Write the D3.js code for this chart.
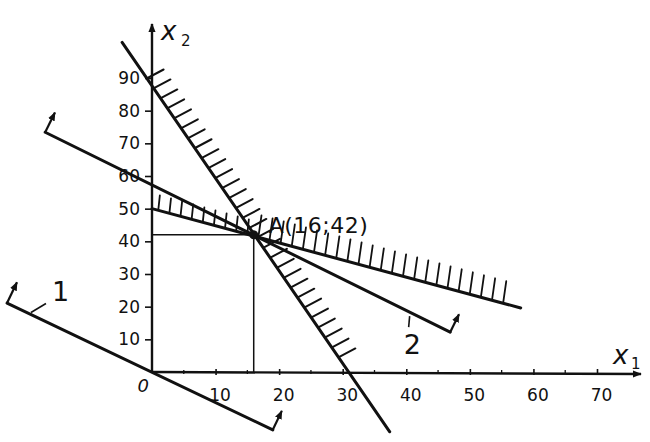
<!DOCTYPE html>
<html><head><meta charset="utf-8">
<script src="https://cdn.jsdelivr.net/npm/d3@7/dist/d3.min.js"></script>
<style>
body{margin:0;background:#fff;}
svg{display:block;}
text{font-family:"DejaVu Sans",sans-serif;fill:#111;}
</style></head>
<body>
<svg id="c" width="650" height="442"></svg>
<script>
// ---- data (in x1 / x2 units) ----
const xTicks = [10, 20, 30, 40, 50, 60, 70];
const xMinorTicks = [5, 15, 25, 35, 45, 55, 65];
const yTicks = [10, 20, 30, 40, 50, 60, 70, 80, 90];
const constraint1 = [[-4.7, 100.9], [37.4, -18.3]];   // steep boundary
const constraint1Hatch = [90, 2];                       // x2 range hatched
const constraint2 = [[0, 50], [58, 19.6]];             // shallow boundary
const constraint2Hatch = [1, 57];                       // x1 range hatched
const level1 = [[-22.8, 21.1], [19.0, -17.7]];          // objective line through origin
const level2 = [[-16.8, 73.4], [46.9, 12.2]];           // objective line through A
const pointA = [16, 42];
const pointALabel = "A(16;42)";
const axisLabels = ["x", "2", "x", "1"];

const svg = d3.select("#c");
const x = d3.scaleLinear().domain([0, 70]).range([152, 597]);
const y = d3.scaleLinear().domain([0, 90]).range([372, 78]);
const ink = "#111";

// arrow marker
const defs = svg.append("defs");
defs.append("marker").attr("id", "ah").attr("viewBox", "0 0 10 10")
  .attr("refX", 9).attr("refY", 5).attr("markerWidth", 9).attr("markerHeight", 9)
  .attr("markerUnits", "userSpaceOnUse").attr("orient", "auto")
  .append("path").attr("d", "M0,1 L10,5 L0,9 Z").attr("fill", ink);

// axes
const gx = svg.append("g").attr("transform", `translate(0,${y(0)})`)
  .call(d3.axisBottom(x).tickValues(xTicks).tickSize(4).tickPadding(13).tickFormat(d3.format("d")));
gx.select(".domain").remove();
gx.selectAll(".tick line").attr("y1", -3).attr("y2", 3).attr("stroke", ink).attr("stroke-width", 1.6);
gx.selectAll(".tick text").attr("font-size", 17).attr("dx", 4).attr("fill", ink)
  .attr("font-family", "DejaVu Sans, sans-serif");
svg.append("g").selectAll("line").data(xMinorTicks).join("line")
  .attr("x1", d => x(d)).attr("x2", d => x(d)).attr("y1", y(0) - 2).attr("y2", y(0) + 2)
  .attr("stroke", ink).attr("stroke-width", 1.3);

const gy = svg.append("g").attr("transform", `translate(${x(0)},0)`)
  .call(d3.axisLeft(y).tickValues(yTicks).tickSize(7).tickPadding(5).tickFormat(d3.format("d")));
gy.select(".domain").remove();
gy.selectAll(".tick line").attr("stroke", ink).attr("stroke-width", 1.6);
gy.selectAll(".tick text").attr("font-size", 17).attr("fill", ink)
  .attr("font-family", "DejaVu Sans, sans-serif");

svg.append("line").attr("x1", x(0)).attr("y1", y(0)).attr("x2", 641).attr("y2", y(0) + 2)
  .attr("stroke", ink).attr("stroke-width", 2.4).attr("marker-end", "url(#ah)");
svg.append("line").attr("x1", x(0)).attr("y1", y(0)).attr("x2", x(0)).attr("y2", 24)
  .attr("stroke", ink).attr("stroke-width", 2.4).attr("marker-end", "url(#ah)");

svg.append("text").attr("x", x(0) - 3).attr("y", y(0) + 20).attr("text-anchor", "end")
  .attr("font-size", 18).attr("font-style", "italic").text("0");

// axis names
const nm = svg.append("g");
nm.append("text").attr("x", 161).attr("y", 40).attr("font-size", 26).attr("font-style", "italic")
  .attr("font-family", "DejaVu Serif, serif").text(axisLabels[0]);
nm.append("text").attr("x", 181).attr("y", 46).attr("font-size", 15)
  .attr("font-family", "DejaVu Sans, sans-serif").text(axisLabels[1]);
nm.append("text").attr("x", 613).attr("y", 364).attr("font-size", 26).attr("font-style", "italic")
  .attr("font-family", "DejaVu Serif, serif").text(axisLabels[2]);
nm.append("text").attr("x", 631).attr("y", 369).attr("font-size", 15)
  .attr("font-family", "DejaVu Sans, sans-serif").text(axisLabels[3]);

// helper projections of A
svg.append("path")
  .attr("d", `M${x(0)},${y(pointA[1])} H${x(pointA[0])} V${y(0)}`)
  .attr("fill", "none").attr("stroke", ink).attr("stroke-width", 1.5);

// helpers
function lineAt(seg, t) { // t in [0,1]
  return [seg[0][0] + (seg[1][0] - seg[0][0]) * t, seg[0][1] + (seg[1][1] - seg[0][1]) * t];
}
function drawLine(seg, w) {
  svg.append("line")
    .attr("x1", x(seg[0][0])).attr("y1", y(seg[0][1]))
    .attr("x2", x(seg[1][0])).attr("y2", y(seg[1][1]))
    .attr("stroke", ink).attr("stroke-width", w).attr("stroke-linecap", "round");
}

// hatching for constraint 1 (up-right side)
{
  const [a, b] = constraint1;
  const slope = (b[1] - a[1]) / (b[0] - a[0]);
  const pts = d3.range(constraint1Hatch[0], constraint1Hatch[1], -3.05).map(v => {
    const u = a[0] + (v - a[1]) / slope;
    return [x(u), y(v)];
  });
  svg.append("g").selectAll("line").data(pts).join("line")
    .attr("x1", d => d[0] + 1).attr("y1", d => d[1])
    .attr("x2", d => d[0] + 17).attr("y2", d => d[1] - 8.5)
    .attr("stroke", ink).attr("stroke-width", 2).attr("stroke-linecap", "round");
}
// hatching for constraint 2 (upper side)
{
  const [a, b] = constraint2;
  const slope = (b[1] - a[1]) / (b[0] - a[0]);
  const pts = d3.range(constraint2Hatch[0], constraint2Hatch[1], 1.75).map(u => {
    const v = a[1] + slope * (u - a[0]);
    return [x(u), y(v), u];
  });
  svg.append("g").selectAll("line").data(pts).join("line")
    .attr("x1", d => d[0]).attr("y1", d => d[1] - 1)
    .attr("x2", d => d[0] + (d[2] < pointA[0] ? 1.5 : 3)).attr("y2", d => d[1] - (d[2] < pointA[0] ? 15 : 22))
    .attr("stroke", ink).attr("stroke-width", 1.8).attr("stroke-linecap", "round");
}

drawLine(constraint1, 3);
drawLine(constraint2, 3);
drawLine(level1, 3);
drawLine(level2, 3);

// normal arrows at ends of objective lines
function endArrow(seg, end, len) {
  const p = seg[end];
  const px = x(p[0]), py = y(p[1]);
  const dx = x(seg[1][0]) - x(seg[0][0]), dy = y(seg[1][1]) - y(seg[0][1]);
  const L = Math.hypot(dx, dy);
  let nx = dy / L, ny = -dx / L;
  if (ny > 0) { nx = -nx; ny = -ny; }
  svg.append("line").attr("x1", px).attr("y1", py)
    .attr("x2", px + nx * len).attr("y2", py + ny * len)
    .attr("stroke", ink).attr("stroke-width", 2.2).attr("marker-end", "url(#ah)");
}
endArrow(level1, 0, 23);
endArrow(level1, 1, 21);
endArrow(level2, 0, 22);
endArrow(level2, 1, 20);

// labels 1 and 2 with leaders
{
  const p = lineAt(level1, 0.09);
  svg.append("line").attr("x1", x(p[0])).attr("y1", y(p[1]) - 2)
    .attr("x2", x(p[0]) + 15).attr("y2", y(p[1]) - 11)
    .attr("stroke", ink).attr("stroke-width", 1.6);
  svg.append("text").attr("x", x(p[0]) + 21).attr("y", y(p[1]) - 13)
    .attr("font-size", 27).text("1");
  const q = lineAt(level2, 0.9);
  svg.append("line").attr("x1", x(q[0])).attr("y1", y(q[1]) + 4)
    .attr("x2", x(q[0]) - 1).attr("y2", y(q[1]) + 15)
    .attr("stroke", ink).attr("stroke-width", 1.6);
  svg.append("text").attr("x", x(q[0]) - 6).attr("y", y(q[1]) + 42)
    .attr("font-size", 27).text("2");
}

// point A
svg.append("circle").attr("cx", x(pointA[0])).attr("cy", y(pointA[1])).attr("r", 4.5).attr("fill", ink);
svg.append("text").attr("x", x(pointA[0]) + 15).attr("y", y(pointA[1]) - 2)
  .attr("font-size", 22).attr("letter-spacing", 0.5).text(pointALabel);
</script>
</body></html>
